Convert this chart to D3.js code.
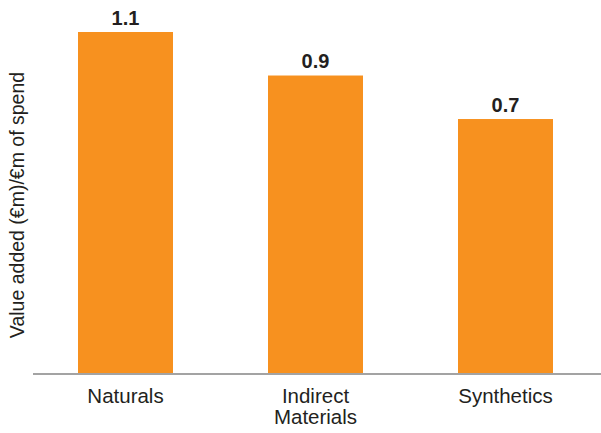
<!DOCTYPE html>
<html>
<head>
<meta charset="utf-8">
<script src="https://cdn.jsdelivr.net/npm/d3@7"></script>
<style>
  html, body { margin: 0; padding: 0; background: #ffffff; }
  svg { display: block; font-family: "Liberation Sans", Arial, Helvetica, sans-serif; }
</style>
</head>
<body>
<svg id="chart" width="601" height="433"></svg>
<script>
// Value added per € of spend, by spend category
const categories = ["Naturals", "Indirect\nMaterials", "Synthetics"];
const values = [1.1, 0.9, 0.7];
const valueLabels = ["1.1", "0.9", "0.7"];
const axisTitle = "Value added (€m)/€m of spend";
// lower end of the (unlabelled) value axis
const axisFloor = -0.472;

const svg = d3.select("#chart");
const W = 601;
const baseY = 374, topY = 32;

const x = d3.scaleBand()
  .domain(categories)
  .range([30.5, 600.5])
  .paddingInner(0.5)
  .paddingOuter(0.25);

const y = d3.scaleLinear()
  .domain([axisFloor, d3.max(values)])
  .range([baseY, topY]);

const data = categories.map((c, i) => ({ c, v: values[i], label: valueLabels[i] }));

// bars
svg.append("g").selectAll("rect")
  .data(data)
  .join("rect")
  .attr("x", d => x(d.c))
  .attr("width", x.bandwidth())
  .attr("y", d => y(d.v))
  .attr("height", d => y(axisFloor) - y(d.v))
  .attr("fill", "#f7911f");

// value labels
svg.append("g").selectAll("text")
  .data(data)
  .join("text")
  .attr("x", d => x(d.c) + x.bandwidth() / 2)
  .attr("y", d => y(d.v) - 7.5)
  .attr("text-anchor", "middle")
  .attr("font-size", 20)
  .attr("font-weight", "bold")
  .attr("fill", "#231f20")
  .text(d => d.label);

// baseline axis
const xAxis = d3.axisBottom(x).tickSize(0).tickFormat("");
const gx = svg.append("g")
  .attr("transform", `translate(0,${baseY})`)
  .call(xAxis);
gx.select(".domain").remove();
gx.append("line")
  .attr("x1", 33).attr("x2", W)
  .attr("y1", 0).attr("y2", 0)
  .attr("stroke", "#a3a3a3")
  .attr("stroke-width", 2);

// category labels (multi-line)
svg.append("g").selectAll("text")
  .data(categories)
  .join("text")
  .attr("text-anchor", "middle")
  .attr("font-size", 20.5)
  .attr("fill", "#231f20")
  .each(function (c) {
    const lines = c.split("\n");
    const t = d3.select(this);
    lines.forEach((ln, i) => {
      t.append("tspan")
        .attr("x", x(c) + x.bandwidth() / 2)
        .attr("y", 403 + i * 21)
        .text(ln);
    });
  });

// y axis title
svg.append("text")
  .attr("transform", "translate(24,205) rotate(-90)")
  .attr("text-anchor", "middle")
  .attr("font-size", 19.5)
  .attr("fill", "#231f20")
  .text(axisTitle);
</script>
</body>
</html>
